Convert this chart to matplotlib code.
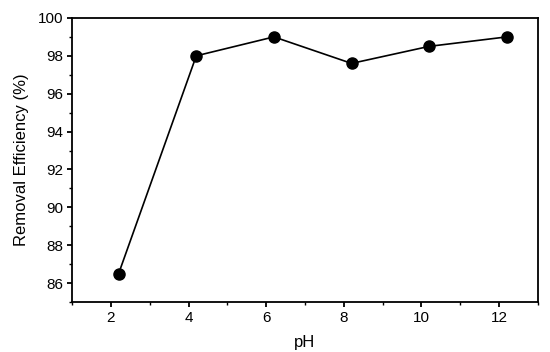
import matplotlib
matplotlib.use("Agg")
import matplotlib.pyplot as plt
from matplotlib.ticker import MultipleLocator

ph = [2.2, 4.2, 6.2, 8.2, 10.2, 12.2]
removal = [86.5, 98.0, 99.0, 97.6, 98.5, 99.0]

plt.rcParams['font.family'] = ['Liberation Sans', 'DejaVu Sans']

fig = plt.figure(figsize=(5.5, 3.52), dpi=100)
ax = fig.add_axes([0.131, 0.142, 0.847, 0.807])

ax.plot(ph, removal, color='black', lw=1.2, marker='o', markersize=8,
        markerfacecolor='black', markeredgecolor='black')

ax.set_xlim(1, 13)
ax.set_ylim(85, 100)
ax.xaxis.set_major_locator(MultipleLocator(2))
ax.xaxis.set_minor_locator(MultipleLocator(1))
ax.yaxis.set_major_locator(MultipleLocator(2))
ax.yaxis.set_minor_locator(MultipleLocator(1))
ax.tick_params(which='major', direction='out', length=3.5, width=1.3, labelsize=11, pad=3)
ax.tick_params(which='minor', direction='out', length=2.5, width=1.0)
for s in ax.spines.values():
    s.set_linewidth(1.3)

ax.set_xlabel('pH', fontsize=12, labelpad=7)
ax.set_ylabel('Removal Efficiency (%)', fontsize=12, labelpad=6)

fig.savefig('out.png', dpi=100)
